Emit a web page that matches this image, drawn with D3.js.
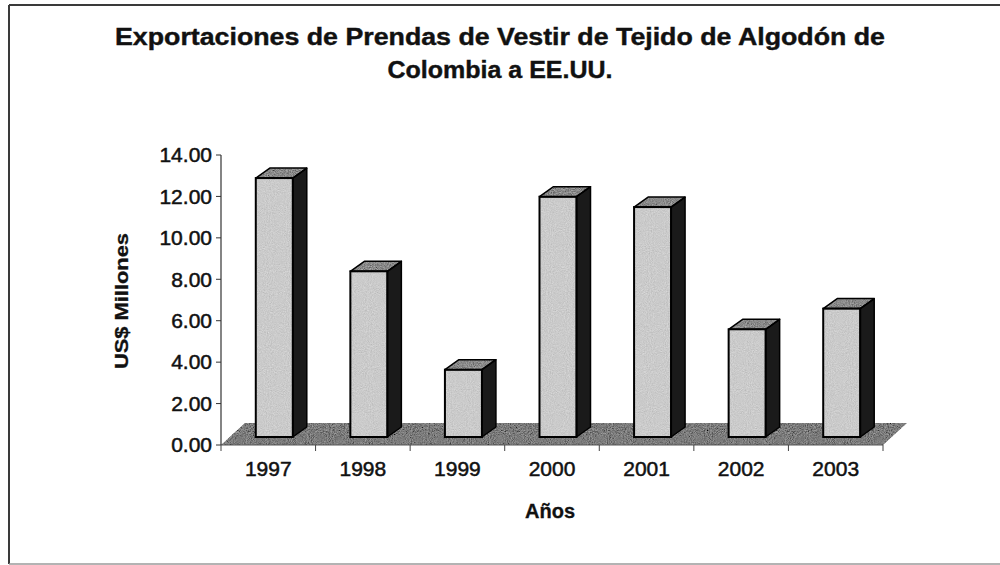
<!DOCTYPE html>
<html>
<head>
<meta charset="utf-8">
<script src="https://cdn.jsdelivr.net/npm/d3@7"></script>
<style>
  html, body { margin: 0; padding: 0; background: #fff; }
  svg { display: block; font-family: "Liberation Sans", Arial, sans-serif; }
</style>
</head>
<body>
<svg id="chart" width="1000" height="565"></svg>
<script>
// ---- data ----
const years = ["1997", "1998", "1999", "2000", "2001", "2002", "2003"];
const exportsMillions = [12.5, 8.0, 3.25, 11.6, 11.1, 5.2, 6.2];
const yTicks = [0, 2, 4, 6, 8, 10, 12, 14];
const titleLines = ["Exportaciones de Prendas de Vestir de Tejido de Algodón de", "Colombia a EE.UU."];
const yTitle = "US$ Millones";
const xTitle = "Años";

// ---- layout ----
const svg = d3.select("#chart");
const x = d3.scaleBand().domain(years).range([221, 883]).padding(0);
const y = d3.scaleLinear().domain([0, 14]).range([445, 155]);

const floorDX = 24, floorDY = 22;     // depth of the floor
const frontDX = 6, frontDY = 8;       // bar front face offset into depth
const barDX = 14, barDY = 10;         // bar depth
const barW = 37;

// filter for grainy texture
const defs = svg.append("defs");
function grain(id, amt, bias) {
  const f = defs.append("filter").attr("id", id).attr("x", 0).attr("y", 0).attr("width", "100%").attr("height", "100%");
  f.append("feTurbulence").attr("type", "fractalNoise").attr("baseFrequency", 0.95).attr("numOctaves", 2).attr("seed", 3).attr("result", "noise");
  f.append("feColorMatrix").attr("in", "noise").attr("type", "matrix")
    .attr("values", "0.33 0.33 0.33 0 0  0.33 0.33 0.33 0 0  0.33 0.33 0.33 0 0  0 0 0 0 1").attr("result", "gnoise");
  f.append("feComposite").attr("in", "SourceGraphic").attr("in2", "gnoise").attr("operator", "arithmetic")
    .attr("k1", 0).attr("k2", 1).attr("k3", amt).attr("k4", bias).attr("result", "comp");
  f.append("feComposite").attr("in", "comp").attr("in2", "SourceGraphic").attr("operator", "in");
}
grain("grain", 0.45, -0.22);
grain("grainStrong", 0.8, -0.4);

// border
svg.append("line").attr("x1", 9).attr("y1", 5).attr("x2", 9).attr("y2", 564).attr("stroke", "#3a3a3a").attr("stroke-width", 2);
svg.append("line").attr("x1", 9).attr("y1", 5).attr("x2", 1000).attr("y2", 5).attr("stroke", "#3a3a3a").attr("stroke-width", 2);
svg.append("line").attr("x1", 9).attr("y1", 564).attr("x2", 1000).attr("y2", 564).attr("stroke", "#9a9a9a").attr("stroke-width", 1.5);

// title
svg.append("text").attr("x", 500).attr("y", 45).attr("text-anchor", "middle")
  .attr("font-size", 23).attr("font-weight", "bold").attr("fill", "#111").attr("stroke", "#111").attr("stroke-width", 0.4)
  .attr("textLength", 770).attr("lengthAdjust", "spacingAndGlyphs").text(titleLines[0]);
svg.append("text").attr("x", 500).attr("y", 78).attr("text-anchor", "middle")
  .attr("font-size", 23).attr("font-weight", "bold").attr("fill", "#111").attr("stroke", "#111").attr("stroke-width", 0.4)
  .attr("textLength", 225).attr("lengthAdjust", "spacingAndGlyphs").text(titleLines[1]);

// floor
const x0 = x.range()[0], x1 = x.range()[1], y0 = y(0);
const floorPts = [[x0, y0], [x1, y0], [x1 + floorDX, y0 - floorDY], [x0 + floorDX, y0 - floorDY]];
svg.append("polygon").attr("points", floorPts.map(p => p.join(",")).join(" "))
  .attr("fill", "#7c7c7c").attr("filter", "url(#grainStrong)");
svg.append("line").attr("x1", x0).attr("y1", y0).attr("x2", x1).attr("y2", y0).attr("stroke", "#555").attr("stroke-width", 1);

// y axis
svg.append("line").attr("x1", x0).attr("y1", y(14)).attr("x2", x0).attr("y2", y0).attr("stroke", "#333").attr("stroke-width", 1.2);
const yt = svg.append("g");
yt.selectAll("line").data(yTicks).join("line")
  .attr("x1", x0 - 5).attr("x2", x0).attr("y1", d => y(d)).attr("y2", d => y(d)).attr("stroke", "#333");
yt.selectAll("text").data(yTicks).join("text")
  .attr("x", x0 - 9).attr("y", d => y(d)).attr("dy", "0.35em").attr("text-anchor", "end")
  .attr("font-size", 21).attr("fill", "#111").attr("stroke", "#111").attr("stroke-width", 0.5)
  .text(d => d3.format(".2f")(d));

// x axis ticks & labels
const bounds = years.map(d => x(d)).concat([x1]);
svg.append("g").selectAll("line").data(bounds).join("line")
  .attr("x1", d => d).attr("x2", d => d).attr("y1", y0).attr("y2", y0 + 6).attr("stroke", "#444");
svg.append("g").selectAll("text").data(years).join("text")
  .attr("x", d => x(d) + x.bandwidth() / 2).attr("y", 476).attr("text-anchor", "middle")
  .attr("font-size", 21).attr("fill", "#111").attr("stroke", "#111").attr("stroke-width", 0.5).text(d => d);

// bars
const data = years.map((yr, i) => ({ yr, v: exportsMillions[i] }));
const g = svg.append("g");
data.forEach(d => {
  const cx = x(d.yr) + x.bandwidth() / 2 + frontDX;
  const L = cx - barW / 2, R = cx + barW / 2;
  const B = y(0) - frontDY, T = y(d.v) - frontDY;
  const side = [[R, B], [R, T], [R + barDX, T - barDY], [R + barDX, B - barDY]];
  const top = [[L, T], [R, T], [R + barDX, T - barDY], [L + barDX, T - barDY]];
  const pts = a => a.map(p => p.join(",")).join(" ");
  g.append("polygon").attr("points", pts(side)).attr("fill", "#1a1a1a");
  g.append("polygon").attr("points", pts(top)).attr("fill", "#8a8a8a").attr("filter", "url(#grainStrong)");
  g.append("rect").attr("x", L).attr("y", T).attr("width", barW).attr("height", B - T)
    .attr("fill", "#cacaca").attr("filter", "url(#grain)");
  g.append("polygon").attr("points", pts(side)).attr("fill", "none").attr("stroke", "#000").attr("stroke-width", 1.5).attr("stroke-linejoin", "round");
  g.append("polygon").attr("points", pts(top)).attr("fill", "none").attr("stroke", "#000").attr("stroke-width", 1.5).attr("stroke-linejoin", "round");
  g.append("rect").attr("x", L).attr("y", T).attr("width", barW).attr("height", B - T)
    .attr("fill", "none").attr("stroke", "#000").attr("stroke-width", 2);
});

// axis titles
svg.append("text").attr("transform", "translate(128,301) rotate(-90)").attr("text-anchor", "middle")
  .attr("font-size", 18).attr("font-weight", "bold").attr("fill", "#111").attr("stroke", "#111").attr("stroke-width", 0.3)
  .attr("textLength", 136).attr("lengthAdjust", "spacingAndGlyphs").text(yTitle);
svg.append("text").attr("x", 550).attr("y", 518).attr("text-anchor", "middle")
  .attr("font-size", 20).attr("font-weight", "bold").attr("fill", "#111").attr("stroke", "#111").attr("stroke-width", 0.3).text(xTitle);
</script>
</body>
</html>
